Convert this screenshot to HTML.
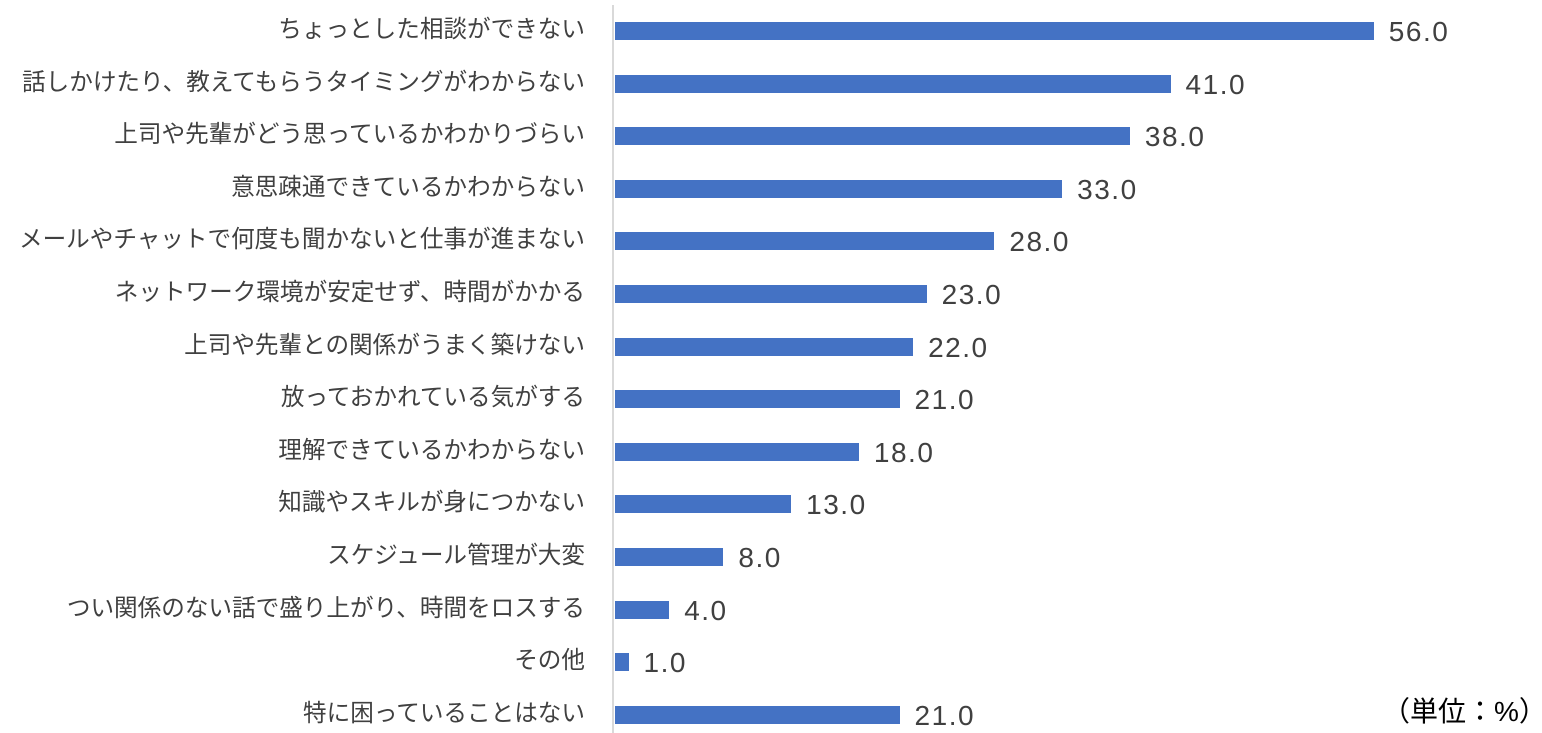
<!DOCTYPE html>
<html><head><meta charset="utf-8"><style>
body{margin:0;width:1542px;height:733px;background:#fff;position:relative;overflow:hidden;font-family:"Liberation Sans","Noto Sans CJK JP",sans-serif}
.l{position:absolute;right:957px;font-size:23.6px;color:#404040;white-space:nowrap;line-height:30px}
.b{position:absolute;left:615px;height:18px;background:#4472c4}
.v{position:absolute;font-size:28px;letter-spacing:1.5px;color:#404040;line-height:30px}
</style></head><body>
<div style="position:absolute;left:612px;top:5px;width:2px;height:728px;background:#d9d9d9"></div>
<script>
var d=[["ちょっとした相談ができない",56],["話しかけたり、教えてもらうタイミングがわからない",41],["上司や先輩がどう思っているかわかりづらい",38],["意思疎通できているかわからない",33],["メールやチャットで何度も聞かないと仕事が進まない",28],["ネットワーク環境が安定せず、時間がかかる",23],["上司や先輩との関係がうまく築けない",22],["放っておかれている気がする",21],["理解できているかわからない",18],["知識やスキルが身につかない",13],["スケジュール管理が大変",8],["つい関係のない話で盛り上がり、時間をロスする",4],["その他",1],["特に困っていることはない",21]];
var h="";
for(var i=0;i<d.length;i++){var c=31+i*52.6,w=d[i][1]*13.55;
h+='<div class="l" style="top:'+(c-16)+'px">'+d[i][0]+'</div>';
h+='<div class="b" style="top:'+(c-9)+'px;width:'+w+'px"></div>';
h+='<div class="v" style="top:'+(c-14)+'px;left:'+(615+w+15)+'px">'+d[i][1].toFixed(1)+'</div>';}
h+='<div style="position:absolute;left:1382px;top:690px;font-size:28px;color:#000">（単位：%）</div>';
document.write(h);
</script>
</body></html>
